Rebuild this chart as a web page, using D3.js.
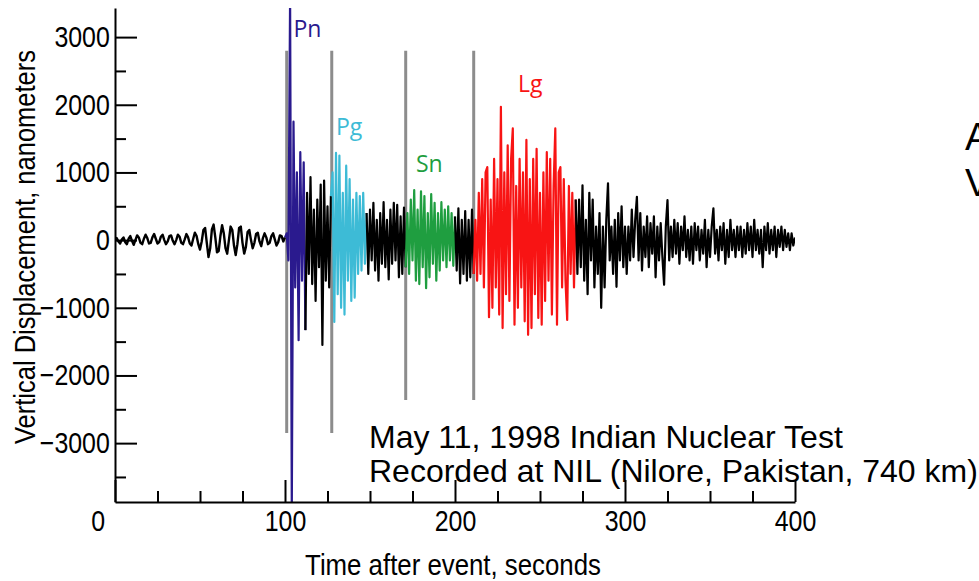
<!DOCTYPE html>
<html>
<head>
<meta charset="utf-8">
<script src="https://cdn.jsdelivr.net/npm/d3@7"></script>
<style>
  body { margin: 0; background: #fff; }
  svg { display: block; }
</style>
</head>
<body>
<div class="chart"></div>
<script>
var svgWidth = 979;
var svgHeight = 581;

// Ticks
var xMajorTicks = [0, 100, 200, 300, 400];
var xMinorTicks = [25, 50, 75, 125, 150, 175, 225, 250, 275, 325, 350, 375];
var yMajorTicks = [-3000, -2000, -1000, 0, 1000, 2000, 3000];
var yMinorTicks = [-3500, -2500, -1500, -500, 500, 1500, 2500];

// Phase pick lines (seconds)
var pickTimes = [101, 127.5, 171, 211];

// Phase labels
var phaseNames = ["Pn", "Pg", "Sn", "Lg"];
var phaseColors = ["#2a1a8e", "#3dbbd6", "#1f9e40", "#f81414"];

// Trace samples, one per second, nanometers
var noiseStart = 0;
var noiseTrace = [
  0, 30, -20, -50, 10, 40, -30, -60, 20, 60,
  -10, -70, 0, 70, 40, -40, -60, 20, 80, 30,
  -50, -40, 40, 90, 20, -50, -30, 50, 80, 0,
  -60, -20, 60, 70, -10, -60, 0, 80, 50, -40,
  -60, 10, 90, 40, -50, -80, 20, 110, 60, -60,
  -140, -20, 150, 180, -40, -250, -120, 160, 230, 40,
  -180, -160, 60, 220, 100, -120, -200, 0, 200, 150,
  -80, -220, -60, 180, 200, -40, -200, -100, 120, 150,
  0, -120, -40, 90, 110, -20, -90, 30, 100, 40,
  -60, -40, 60, 100, 10, -80, -30, 70, 60, -20,
  40
];
var pnStart = 101;
var pnTrace = [100, -300, 3600, -4000, 1750, -700, 1000, -1480, 1300, -600, 1150, -1330];
var coda1Start = 113;
var coda1Trace = [700, -500, 930, -650, 450, -900, 600, -400, 820, -1550, 880, -600, 500, -700, 650];
var pgStart = 128;
var pgTrace = [1000, -1210, 1290, -800, 1250, -1000, 700, -1100, 1100, -600, 900, -900,
  600, -850, 700, -500, 650, -450, 700, -350, 400];
var coda2Start = 149;
var coda2Trace = [-500, 450, -300, 550, -450, 300, -600, 400, -350, 560, -400, 300,
  -580, 450, -350, 550, -300, 520, -550, 350, -500, 480, -400];
var snStart = 172;
var snTrace = [400, -500, 600, -300, 740, -600, 450, -650, 720, -400, 650, -710, 400, -550,
  680, -350, 550, -600, 400, -450, 560, -300, 450, -400, 500, -300, 400, -380, 350];
var coda3Start = 201;
var coda3Trace = [-450, 470, -640, 300, -500, 430, -600, 300, -550, 450, -500];
var lgStart = 212;
var lgTrace = [
  300, -600, 700, -500, 900, -700, 1000, 1080, -1140, 600,
  -1000, 1200, -700, 900, -1100, 1970, -1300, 1000, -800, 1400,
  -900, 1200, 1650, -1250, 800, -1000, 1200, -700, 1000, -1200,
  1480, -1400, 900, -1300, 1200, -800, 1350, -1150, 700, -1250,
  1000, -900, 1300, -600, 1200, -1100, 800, 1650, -1250, 1000,
  1080, -700, 900, -600, -1180, 800, -500, 700, -700, 600
];
var tailStart = 272;
var tailTrace = [
  -500, 600, -400, 810, -600, 300, -800, 700, -300, 600,
  -700, 200, -500, 400, -1000, 200, -700, 300, 840, -300,
  200, -500, 300, -690, 400, -300, 500, -400, 200, -500,
  200, -300, 450, -250, 300, 640, -300, 400, -450, 200,
  -250, 350, -400, 250, -200, 350, -550, 200, -300, 250,
  -250, -660, 200, 590, -300, 200, -250, 300, -200, 250,
  -350, 200, -150, 350, -250, 150, -300, 200, -350, 250,
  -150, 200, -300, 150, -200, 300, -400, 150, -250, 200,
  470, -200, 150, -300, 200, -150, 250, -350, 150, -250,
  300, -150, 150, -250, 200, -150, 200, -250, 150, -200,
  250, -150, 200, -250, 300, -150, 150, -200, 150, -400,
  200, -150, 250, -200, 150, -150, 200, -250, 150, -100,
  200, -150, 150, -100, 100, -150, 100, -80, 40
];

var segments = [
  { start: noiseStart, values: noiseTrace, color: "#000", width: 2.4 },
  { start: pnStart, values: pnTrace, color: phaseColors[0], width: 2.2 },
  { start: coda1Start, values: coda1Trace, color: "#000", width: 2.2 },
  { start: pgStart, values: pgTrace, color: phaseColors[1], width: 2.2 },
  { start: coda2Start, values: coda2Trace, color: "#000", width: 2.2 },
  { start: snStart, values: snTrace, color: phaseColors[2], width: 2.2 },
  { start: coda3Start, values: coda3Trace, color: "#000", width: 2.2 },
  { start: lgStart, values: lgTrace, color: phaseColors[3], width: 2.2 },
  { start: tailStart, values: tailTrace, color: "#000", width: 2.2 }
];

var phaseLabelPos = [
  { t: 105, v: 3000 },
  { t: 130, v: 1560 },
  { t: 177, v: 1000 },
  { t: 237, v: 2190 }
];

var svg = d3.select(".chart").append("svg")
  .attr("width", svgWidth)
  .attr("height", svgHeight);

var xScale = d3.scaleLinear().domain([0, 400]).range([115, 795]);
var yScale = d3.scaleLinear().domain([-3870, 3430]).range([502, 8]);

// narrow look for the axis lettering: regular sans squeezed sideways
var axisFont = "'Liberation Sans', Arial, sans-serif";
var squeeze = 0.86;

svg.append("clipPath").attr("id", "plot-clip")
  .append("rect")
  .attr("x", xScale(0)).attr("y", yScale(3430))
  .attr("width", xScale(400) - xScale(0))
  .attr("height", yScale(-3870) - yScale(3430));

// pick lines
svg.append("g").selectAll("line")
  .data(pickTimes)
  .enter()
  .append("line")
  .attr("x1", d => xScale(d)).attr("x2", d => xScale(d))
  .attr("y1", yScale(2800)).attr("y2", yScale(-2850))
  .attr("stroke", "#8c8c8c")
  .attr("stroke-width", 3);

// trace
var line = d3.line()
  .x(d => xScale(d[0]))
  .y(d => yScale(d[1]));

var traceGroup = svg.append("g").attr("clip-path", "url(#plot-clip)");
var prev = null;
segments.forEach(function(seg) {
  var pts = seg.values.map((v, i) => [seg.start + i, v]);
  if (prev) pts.unshift(prev);
  prev = pts[pts.length - 1];
  traceGroup.append("path")
    .datum(pts)
    .attr("d", line)
    .attr("fill", "none")
    .attr("stroke", seg.color)
    .attr("stroke-width", seg.width)
    .attr("stroke-linejoin", "round");
});

// phase labels
svg.append("g").selectAll("text")
  .data(phaseNames)
  .enter()
  .append("text")
  .attr("x", (d, i) => xScale(phaseLabelPos[i].t))
  .attr("y", (d, i) => yScale(phaseLabelPos[i].v))
  .attr("fill", (d, i) => phaseColors[i])
  .style("font-family", "'Open Sans', 'Noto Sans', sans-serif")
  .style("font-size", "23px")
  .text(d => d);

// annotation box
svg.append("rect")
  .attr("x", 348).attr("y", 400)
  .attr("width", 631).attr("height", 97)
  .attr("fill", "#fff");

var note = svg.append("text")
  .style("font-family", "'Liberation Sans', Arial, sans-serif")
  .style("font-size", "32px")
  .attr("fill", "#000");
note.append("tspan").attr("x", 369).attr("y", 448).text("May 11, 1998 Indian Nuclear Test");
note.append("tspan").attr("x", 369).attr("y", 482).text("Recorded at NIL (Nilore, Pakistan, 740 km)");

// x axis
var xAxis = svg.append("g")
  .attr("transform", `translate(0, ${yScale(-3870)})`)
  .call(d3.axisBottom(xScale).tickValues(xMajorTicks).tickSize(-22).tickSizeOuter(0).tickPadding(8));
svg.append("g")
  .attr("transform", `translate(0, ${yScale(-3870)})`)
  .call(d3.axisBottom(xScale).tickValues(xMinorTicks).tickSize(-11).tickSizeOuter(0).tickFormat(""))
  .select(".domain").remove();
xAxis.selectAll("text").filter(d => d === 0).attr("x", -20);

// y axis
var yAxis = svg.append("g")
  .attr("transform", `translate(${xScale(0)}, 0)`)
  .call(d3.axisLeft(yScale).tickValues(yMajorTicks).tickSize(-22).tickSizeOuter(0).tickPadding(6)
    .tickFormat(d => d < 0 ? "\u2212" + Math.abs(d) : String(d)));
svg.append("g")
  .attr("transform", `translate(${xScale(0)}, 0)`)
  .call(d3.axisLeft(yScale).tickValues(yMinorTicks).tickSize(-11).tickSizeOuter(0).tickFormat(""))
  .select(".domain").remove();

svg.selectAll(".domain").attr("stroke-width", 2);
svg.selectAll(".tick line").attr("stroke-width", 2);
svg.selectAll(".tick text")
  .style("font-family", axisFont)
  .style("font-size", "29px")
  .attr("fill", "#000")
  .attr("transform", `scale(${squeeze}, 1)`);

// axis titles
svg.append("text")
  .attr("transform", `translate(453, 575) scale(${squeeze + 0.03}, 1)`)
  .attr("text-anchor", "middle")
  .style("font-family", axisFont)
  .style("font-size", "29px")
  .text("Time after event, seconds");

svg.append("text")
  .attr("transform", `translate(35, 247) rotate(-90) scale(${squeeze + 0.02}, 1)`)
  .attr("text-anchor", "middle")
  .style("font-family", axisFont)
  .style("font-size", "29px")
  .text("Vertical Displacement, nanometers");

// cut-off slide text at right edge
svg.append("text").attr("x", 965).attr("y", 150)
  .style("font-family", "'Liberation Sans', Arial, sans-serif")
  .style("font-size", "38px").text("A");
svg.append("text").attr("x", 965).attr("y", 196)
  .style("font-family", "'Liberation Sans', Arial, sans-serif")
  .style("font-size", "38px").text("V");
</script>
</body>
</html>
